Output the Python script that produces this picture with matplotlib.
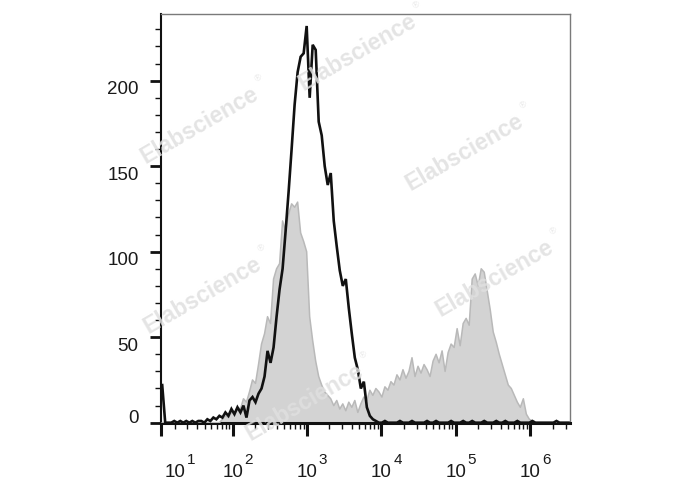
import numpy as np
import matplotlib
matplotlib.use('Agg')
import matplotlib.pyplot as plt

plt.rcParams['font.family'] = ['Liberation Sans', 'DejaVu Sans']

# ---------------- data ----------------
x_max = 3.4e6
n_bins = 136

gray_counts = [
    0, 0, 0, 0, 0, 0, 0, 0, 0, 0,
    0, 0, 0, 0, 0, 0, 0, 0, 0, 0,
    2, 4, 3, 6, 5, 9, 8, 14, 12, 18,
    25, 23, 34, 46, 52, 62, 58, 84, 90, 93,
    118, 112, 122, 128, 126, 129, 111, 106, 100, 62,
    48, 36, 27, 22, 18, 16, 14, 10, 13, 8,
    11, 7, 12, 9, 13, 6, 11, 15, 13, 19,
    16, 20, 18, 15, 21, 19, 24, 22, 28, 25,
    31, 26, 30, 38, 27, 33, 29, 34, 31, 27,
    36, 40, 35, 42, 30, 41, 46, 44, 55, 45,
    58, 61, 57, 84, 87, 80, 90, 88, 77, 66,
    53, 47, 40, 34, 28, 22, 20, 16, 12, 9,
    14, 5, 2, 1, 0, 0, 0, 0, 0, 0,
    0, 0, 0, 0, 0, 0,
]

black_counts = [
    22, 0, 0, 0, 1, 0, 1, 0, 1, 0,
    1, 0, 1, 1, 0, 2, 1, 3, 2, 4,
    3, 6, 4, 8, 5, 9, 6, 10, 3, 13,
    15, 12, 17, 20, 27, 42, 35, 44, 62, 78,
    90, 112, 135, 160, 186, 205, 214, 216, 232, 190,
    221, 218, 176, 168, 150, 139, 146, 118, 103, 89,
    80, 84, 67, 52, 38, 31, 20, 24, 9, 4,
    2, 1, 0, 0, 1, 0, 0, 0, 0, 1,
    0, 0, 0, 1, 0, 0, 0, 0, 1, 0,
    0, 1, 0, 0, 0, 0, 1, 0, 0, 0,
    1, 0, 0, 1, 0, 0, 0, 1, 0, 0,
    0, 1, 0, 0, 1, 0, 0, 0, 1, 0,
    0, 0, 0, 1, 0, 0, 0, 0, 0, 0,
    0, 1, 0, 0, 0, 0,
]

y_ticks = [0, 50, 100, 150, 200]
y_tick_labels = ['0', '50', '100', '150', '200']
x_label_values = [1e1, 1e2, 1e3, 1e4, 1e5, 1e6]
x_label_exps = ['1', '2', '3', '4', '5', '6']
x_major_ticks = [0, 1e2, 1e3, 1e4, 1e5, 1e6]

# ---------------- biexponential-like scale ----------------
W = 10.9

def fwd(x):
    return np.arcsinh(np.asarray(x, dtype=float) / (2 * W)) / np.log(10)

def inv(t):
    return 2 * W * np.sinh(np.asarray(t, dtype=float) * np.log(10))

# bin centres equally spaced in display scale (histogram channels)
t_max = float(fwd(x_max))
bin_centres = inv((np.arange(n_bins) + 0.5) * t_max / n_bins)

# ---------------- figure ----------------
FW, FH = 688, 490
fig = plt.figure(figsize=(FW / 100, FH / 100), dpi=100)
L, R, T, B = 160.7, 570.0, 14.0, 422.7
ax = fig.add_axes([L / FW, 1 - B / FH, (R - L) / FW, (B - T) / FH])
ax.set_xscale('function', functions=(fwd, inv))
ax.set_xlim(0, x_max)
ax.set_ylim(0, 239)

ax.fill_between(bin_centres, gray_counts, 0, facecolor='#d3d3d3',
                edgecolor='none', zorder=2)
ax.plot(bin_centres, gray_counts, color='#b9b9b9', lw=1.1, zorder=3)
ax.plot(bin_centres, black_counts, color='#111111', lw=1.9, zorder=4,
        solid_joinstyle='miter')

# spines
ax.spines['left'].set_linewidth(1.5)
ax.spines['left'].set_color('#111111')
ax.spines['bottom'].set_linewidth(2.2)
ax.spines['bottom'].set_color('#111111')
for s in ('top', 'right'):
    ax.spines[s].set_linewidth(1.0)
    ax.spines[s].set_color('#7a7a7a')

# ticks
ax.set_yticks(y_ticks)
ax.set_yticks(np.arange(0, 240, 10), minor=True)
ax.set_xticks(x_major_ticks)
minor_x = [m * 10 ** k for k in range(1, 7) for m in range(1, 10)
           if m * 10 ** k <= x_max and (m != 1 or k == 1)]
ax.set_xticks(minor_x, minor=True)
ax.tick_params(axis='y', which='major', length=8, width=2.0, color='#111111',
               labelleft=False)
ax.tick_params(axis='y', which='minor', length=4.2, width=1.0, color='#111111')
ax.tick_params(axis='x', which='major', length=9.5, width=2.2, color='#111111',
               labelbottom=False)
ax.tick_params(axis='x', which='minor', length=4.5, width=1.0, color='#111111')

# y labels
for v, lbl in zip(y_ticks, y_tick_labels):
    dy = 0 if v == 0 else -13.5
    ax.annotate(lbl, xy=(0, v), xycoords=('axes fraction', 'data'),
                xytext=(-22, dy), textcoords='offset pixels',
                ha='right', va='baseline', fontsize=13.5, color='#1a1a1a',
                annotation_clip=False)

# x labels 10^n
for v, e in zip(x_label_values, x_label_exps):
    ax.annotate('10', xy=(v, 0), xycoords=('data', 'axes fraction'),
                xytext=(0, -54.5), textcoords='offset pixels',
                ha='center', va='baseline', fontsize=13.5, color='#1a1a1a',
                annotation_clip=False)
    ax.annotate(e, xy=(v, 0), xycoords=('data', 'axes fraction'),
                xytext=(16, -41), textcoords='offset pixels',
                ha='center', va='baseline', fontsize=11, color='#1a1a1a',
                annotation_clip=False)

# watermarks
wm_centres = [(200, 125), (358, 52), (465, 152), (203, 295), (495, 278), (305, 402)]
ang = 30
ca, sa = np.cos(np.radians(ang)), np.sin(np.radians(ang))
for cx, cy in wm_centres:
    fig.text(cx / FW, 1 - cy / FH, 'Elabscience', rotation=ang, ha='center',
             va='center', fontsize=16.5, fontweight='bold', color='#e0e0e0',
             alpha=0.85, zorder=10, rotation_mode='anchor')
    ox = 74 * ca - 11 * sa
    oy = 74 * sa + 11 * ca
    fig.text((cx + ox) / FW, 1 - (cy - oy) / FH, '®', rotation=ang,
             ha='center', va='center', fontsize=6.5, color='#e0e0e0',
             alpha=0.85, zorder=10, rotation_mode='anchor')

fig.savefig('out.png', dpi=100)
